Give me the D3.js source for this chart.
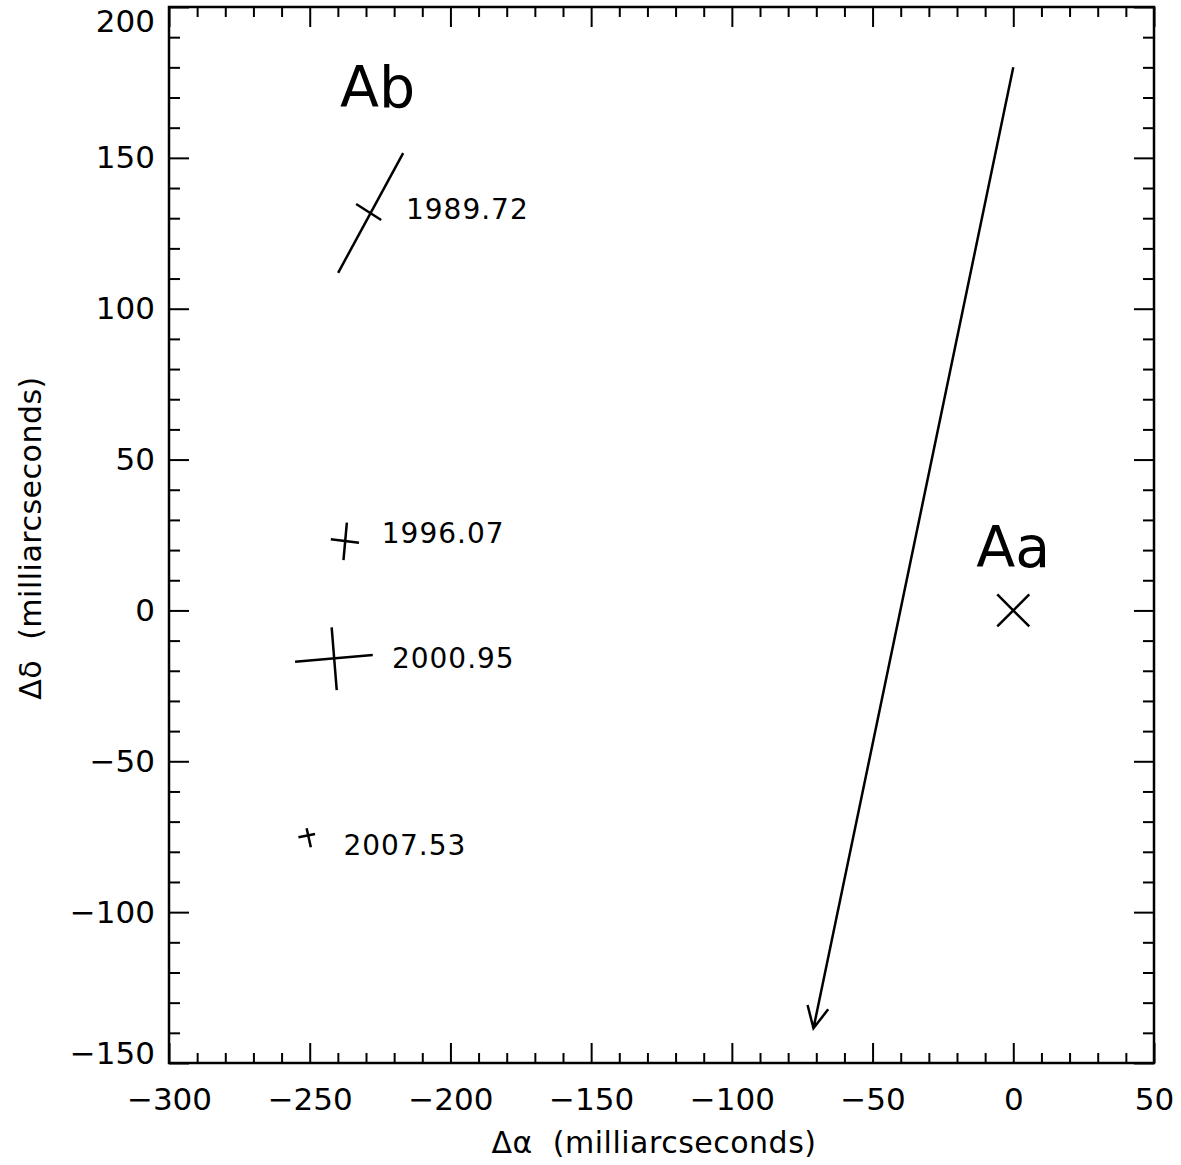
<!DOCTYPE html>
<html>
<head>
<meta charset="utf-8">
<script src="https://cdn.jsdelivr.net/npm/d3@7"></script>
<style>
  body { margin: 0; background: #fff; }
  svg text { font-family: "DejaVu Sans", sans-serif; fill: #000; }
</style>
</head>
<body>
<svg id="chart" width="1181" height="1165"></svg>
<script>
// epochs of the companion Ab measurements
const epochs = ["1989.72", "1996.07", "2000.95", "2007.53"];
const centerX = [-228.6, -238.0, -241.3, -250.5];
const centerY = [131.7, 22.6, -15.8, -75.0];

// error bar segments (ends in mas): [x1, y1, x2, y2]
const barA = [
  [-216.8, 151.6, -239.9, 111.9],
  [-242.5, 23.6, -232.5, 22.4],
  [-255.2, -17.0, -227.6, -14.8],
  [-254.0, -75.2, -248.1, -74.1]
];
const barB = [
  [-233.5, 134.7, -224.6, 129.4],
  [-236.8, 29.1, -238.0, 16.7],
  [-242.2, -5.6, -240.4, -26.4],
  [-251.1, -72.2, -249.6, -78.5]
];

// where the epoch labels sit (mas)
const labelX = [-215.8, -224.4, -220.8, -238.0];
const labelY = [129.7, 22.2, -19.2, -81.1];

// primary Aa, and the motion arrow
const primary = [0, 0];
const arrowFrom = [0, 180];
const arrowTo = [-71, -138.5];

const xDomain = [-300, 50];
const yDomain = [-150, 200];

/*
  layout
*/
const svg = d3.select("#chart");
const box = { left: 169, right: 1154, top: 7, bottom: 1063 };

const x = d3.scaleLinear().domain(xDomain).range([box.left, box.right]);
const y = d3.scaleLinear().domain(yDomain).range([box.bottom, box.top]);

const majorX = d3.range(-300, 51, 50);
const minorX = d3.range(-300, 51, 10).filter(v => v % 50 !== 0);
const majorY = d3.range(-150, 201, 50);
const minorY = d3.range(-150, 201, 10).filter(v => v % 50 !== 0);

function styleAxis(g) {
  g.select(".domain").remove();
  g.selectAll(".tick line").attr("stroke", "#000").attr("stroke-width", 2);
  g.selectAll(".tick text")
    .attr("font-size", 31)
    .attr("font-family", "DejaVu Sans, sans-serif")
    .attr("fill", "#000");
}

// bottom
svg.append("g").attr("transform", `translate(0,${box.bottom})`)
  .call(d3.axisBottom(x).tickValues(majorX).tickSize(-20).tickPadding(25))
  .call(styleAxis);
svg.append("g").attr("transform", `translate(0,${box.bottom})`)
  .call(d3.axisBottom(x).tickValues(minorX).tickSize(-10).tickFormat(""))
  .call(styleAxis);
// top
svg.append("g").attr("transform", `translate(0,${box.top})`)
  .call(d3.axisTop(x).tickValues(majorX).tickSize(-20).tickFormat(""))
  .call(styleAxis);
svg.append("g").attr("transform", `translate(0,${box.top})`)
  .call(d3.axisTop(x).tickValues(minorX).tickSize(-10).tickFormat(""))
  .call(styleAxis);
// left
svg.append("g").attr("transform", `translate(${box.left},0)`)
  .call(d3.axisLeft(y).tickValues(majorY).tickSize(-20).tickPadding(14))
  .call(styleAxis)
  .call(g => g.selectAll(".tick text")
    // the end labels are pulled inside the frame
    .attr("dy", d => d === yDomain[1] ? "0.8em" : d === yDomain[0] ? "0em" : "0.32em"));
svg.append("g").attr("transform", `translate(${box.left},0)`)
  .call(d3.axisLeft(y).tickValues(minorY).tickSize(-11).tickFormat(""))
  .call(styleAxis);
// right
svg.append("g").attr("transform", `translate(${box.right},0)`)
  .call(d3.axisRight(y).tickValues(majorY).tickSize(-20).tickFormat(""))
  .call(styleAxis);
svg.append("g").attr("transform", `translate(${box.right},0)`)
  .call(d3.axisRight(y).tickValues(minorY).tickSize(-11).tickFormat(""))
  .call(styleAxis);

// frame
svg.append("rect")
  .attr("x", box.left).attr("y", box.top)
  .attr("width", box.right - box.left).attr("height", box.bottom - box.top)
  .attr("fill", "none").attr("stroke", "#000").attr("stroke-width", 2.5);

// axis titles
svg.append("text")
  .attr("x", 654).attr("y", 1153)
  .attr("text-anchor", "middle")
  .attr("font-size", 30)
  .attr("letter-spacing", 0.5)
  .style("white-space", "pre")
  .text("Δα  (milliarcseconds)");

svg.append("text")
  .attr("transform", "translate(41,538) rotate(-90)")
  .attr("text-anchor", "middle")
  .attr("font-size", 30)
  .attr("letter-spacing", 0.5)
  .style("white-space", "pre")
  .text("Δδ  (milliarcseconds)");

/*
  marks
*/
const plot = svg.append("g");

// error bars
[barA, barB].forEach(bars => {
  plot.selectAll(null)
    .data(bars)
    .enter()
    .append("line")
    .attr("x1", d => x(d[0])).attr("y1", d => y(d[1]))
    .attr("x2", d => x(d[2])).attr("y2", d => y(d[3]))
    .attr("stroke", "#000")
    .attr("stroke-width", 2.5);
});

// epoch labels
plot.selectAll(null)
  .data(epochs)
  .enter()
  .append("text")
  .attr("x", (d, i) => x(labelX[i]))
  .attr("y", (d, i) => y(labelY[i]))
  .attr("font-size", 28)
  .attr("letter-spacing", 1)
  .text(d => d);

// component names
plot.append("text")
  .attr("x", x(-239.2)).attr("y", y(167))
  .attr("font-size", 57)
  .text("Ab");
plot.append("text")
  .attr("x", x(primary[0])).attr("y", y(14.5))
  .attr("text-anchor", "middle")
  .attr("font-size", 57)
  .text("Aa");

// primary marker (X)
const px = x(primary[0]), py = y(primary[1]), s = 16;
plot.append("path")
  .attr("d", `M${px - s},${py - s}L${px + s},${py + s}M${px - s},${py + s}L${px + s},${py - s}`)
  .attr("stroke", "#000").attr("stroke-width", 2.5).attr("fill", "none");

// motion arrow
const ax0 = x(arrowFrom[0]), ay0 = y(arrowFrom[1]);
const ax1 = x(arrowTo[0]), ay1 = y(arrowTo[1]);
const ang = Math.atan2(ay0 - ay1, ax0 - ax1);
const headLen = 24, headAng = 26 * Math.PI / 180;
const h1 = [ax1 + headLen * Math.cos(ang - headAng), ay1 + headLen * Math.sin(ang - headAng)];
const h2 = [ax1 + headLen * Math.cos(ang + headAng), ay1 + headLen * Math.sin(ang + headAng)];

plot.append("path")
  .attr("d", `M${ax0},${ay0}L${ax1},${ay1}M${h1[0]},${h1[1]}L${ax1},${ay1}L${h2[0]},${h2[1]}`)
  .attr("stroke", "#000").attr("stroke-width", 2.5)
  .attr("stroke-linejoin", "miter")
  .attr("fill", "none");
</script>
</body>
</html>
